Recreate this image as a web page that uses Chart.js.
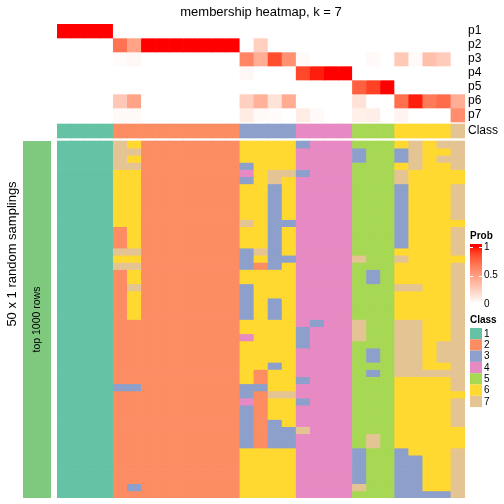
<!DOCTYPE html>
<html>
<head>
<meta charset="utf-8">
<script src="https://cdn.jsdelivr.net/npm/chart.js@4.4.1/dist/chart.umd.min.js"></script>
<style>
  html, body { margin: 0; padding: 0; background: #fff; }
  #wrap { width: 504px; height: 504px; }
</style>
</head>
<body>
<div id="wrap"><canvas id="heatmap" width="504" height="504"></canvas></div>
<script>
// consensus class of each of the 29 samples (columns)
const classIds = [1,1,1,1, 2,2,2,2,2,2,2,2,2, 3,3,3,3, 4,4,4,4, 5,5,5, 6,6,6,6, 7];

// membership probability per class (top annotation)
const probNames = ['p1', 'p2', 'p3', 'p4', 'p5', 'p6', 'p7'];
const p1 = [1,1,1,1, 0,0,0,0,0,0,0,0,0, 0,0,0,0, 0,0,0,0, 0,0,0, 0,0,0,0, 0];
const p2 = [0,0,0,0, 0.7,0.48,1,1,1,1,1,1,1, 0,0.25,0,0, 0,0,0,0, 0,0,0, 0,0,0,0, 0];
const p3 = [0,0,0,0, 0.02,0.04,0,0,0,0,0,0,0, 0.62,0.42,0.85,0.57, 0.03,0,0,0, 0,0.03,0, 0.28,0.03,0.33,0.27, 0];
const p4 = [0,0,0,0, 0,0,0,0,0,0,0,0,0, 0.04,0,0,0, 0.87,0.97,1,1, 0,0,0, 0,0,0,0, 0];
const p5 = [0,0,0,0, 0,0,0,0,0,0,0,0,0, 0,0,0,0, 0,0,0,0, 0.78,0.89,1, 0,0,0,0, 0];
const p6 = [0,0,0,0, 0.29,0.47,0,0,0,0,0,0,0, 0.25,0.4,0.15,0.43, 0,0,0,0, 0.15,0,0, 0.72,0.97,0.67,0.73, 0.42];
const p7 = [0,0,0,0, 0.03,0.03,0,0,0,0,0,0,0, 0.1,0.03,0.02,0, 0.1,0.03,0,0, 0.08,0.09,0, 0.06,0,0,0, 0.58];

// class assigned in each of the 50 random samplings (rows), grouped by consensus class
const samplings = [
  '1111 762222222 6666 3444 555 6767 7',
  '1111 772222222 6666 4444 355 3766 7',
  '1111 762222222 6666 4444 355 3767 7',
  '1111 772222222 3666 4444 555 6766 7',
  '1111 662222222 4677 3444 555 7666 6',
  '1111 662222222 3676 4444 555 7666 6',
  '1111 662222222 6636 4444 555 3666 7',
  '1111 662222222 6636 4444 555 3666 7',
  '1111 662222222 6636 4444 555 3666 7',
  '1111 662222222 6636 4444 555 3666 7',
  '1111 662222222 6636 4444 555 3666 7',
  '1111 662222222 7633 4444 555 3666 6',
  '1111 262222222 6636 4444 555 3666 7',
  '1111 262222222 6636 4444 555 3666 7',
  '1111 262222222 6636 4444 555 3666 7',
  '1111 772222222 3736 4444 555 6666 7',
  '1111 662222222 3633 4444 755 7666 6',
  '1111 772222222 3236 4444 555 6666 7',
  '1111 262222222 6666 4444 535 6666 7',
  '1111 262222222 6666 4444 535 6666 7',
  '1111 272222222 3666 4444 555 7766 7',
  '1111 262222222 3666 4444 555 6666 7',
  '1111 262222222 3636 4444 555 6666 7',
  '1111 262222222 3636 4444 555 6666 7',
  '1111 262222222 3636 4444 555 6666 7',
  '1111 222222222 6666 4344 755 7766 7',
  '1111 222222222 6666 3444 755 7766 7',
  '1111 222222222 4666 3444 755 7766 7',
  '1111 222222222 6666 3444 555 7767 7',
  '1111 222222222 6666 4444 535 7767 7',
  '1111 222222222 6666 4444 535 7767 7',
  '1111 222222222 6636 4444 555 7766 7',
  '1111 222222222 6266 4444 535 7777 7',
  '1111 222222222 6266 3444 555 6666 7',
  '1111 332222222 3366 4444 555 6666 7',
  '1111 222222222 3277 4444 555 6666 6',
  '1111 222222222 4266 3444 555 6666 7',
  '1111 222222222 3266 4444 555 6666 7',
  '1111 222222222 3266 4444 555 6666 7',
  '1111 222222222 3236 4444 555 6666 7',
  '1111 222222222 3233 7444 555 6666 6',
  '1111 222222222 3233 4444 575 6666 6',
  '1111 222222222 3233 4444 575 6666 6',
  '1111 222222222 6666 4444 355 3666 7',
  '1111 222222222 6666 4444 355 3366 7',
  '1111 222222222 6666 4444 355 3366 7',
  '1111 222222222 6666 4444 355 3366 7',
  '1111 222222222 6666 4444 355 3366 7',
  '1111 232222222 6666 4444 755 3366 7',
  '1111 222222222 6666 4444 555 3333 7'
];

const classColors = { 1: '#66C2A5', 2: '#FC8D62', 3: '#8DA0CB', 4: '#E78AC3', 5: '#A6D854', 6: '#FFD92F', 7: '#E5C494' };

// layout (y in pixels from the top of the canvas)
const annoTop = 24, annoRowH = 14;
const classTop = 124, classH = 14;
const bodyTop = 141, bodyBottom = 498;

// white -> red colour ramp, interpolated in LAB like colorRamp2
function toLinear(c) { c /= 255; return c <= 0.04045 ? c / 12.92 : Math.pow((c + 0.055) / 1.055, 2.4); }
function fromLinear(c) { const v = c <= 0.0031308 ? 12.92 * c : 1.055 * Math.pow(c, 1 / 2.4) - 0.055; return Math.round(Math.min(1, Math.max(0, v)) * 255); }
function rgbToLab(r, g, b) {
  const R = toLinear(r), G = toLinear(g), B = toLinear(b);
  const X = (0.4124 * R + 0.3576 * G + 0.1805 * B) / 0.95047;
  const Y = 0.2126 * R + 0.7152 * G + 0.0722 * B;
  const Z = (0.0193 * R + 0.1192 * G + 0.9505 * B) / 1.08883;
  const f = t => t > 0.008856 ? Math.cbrt(t) : 7.787 * t + 16 / 116;
  const fx = f(X), fy = f(Y), fz = f(Z);
  return [116 * fy - 16, 500 * (fx - fy), 200 * (fy - fz)];
}
function labToRgb(L, a, b) {
  const fy = (L + 16) / 116, fx = fy + a / 500, fz = fy - b / 200;
  const inv = t => t * t * t > 0.008856 ? t * t * t : (t - 16 / 116) / 7.787;
  const X = inv(fx) * 0.95047, Y = inv(fy), Z = inv(fz) * 1.08883;
  const R = 3.2406 * X - 1.5372 * Y - 0.4986 * Z;
  const G = -0.9689 * X + 1.8758 * Y + 0.0415 * Z;
  const B = 0.0557 * X - 0.2040 * Y + 1.0570 * Z;
  return 'rgb(' + fromLinear(R) + ',' + fromLinear(G) + ',' + fromLinear(B) + ')';
}
const labLow = rgbToLab(255, 255, 255), labHigh = rgbToLab(255, 0, 0);
function probColor(v) {
  return labToRgb(labLow[0] + (labHigh[0] - labLow[0]) * v,
                  labLow[1] + (labHigh[1] - labLow[1]) * v,
                  labLow[2] + (labHigh[2] - labLow[2]) * v);
}

const datasets = [];
[p1, p2, p3, p4, p5, p6, p7].forEach((vals, i) => {
  datasets.push({
    label: probNames[i],
    data: vals.map(() => [annoTop + i * annoRowH, annoTop + (i + 1) * annoRowH]),
    backgroundColor: vals.map(probColor)
  });
});
datasets.push({
  label: 'Class',
  data: classIds.map(() => [classTop, classTop + classH]),
  backgroundColor: classIds.map(c => classColors[c])
});
const rowH = (bodyBottom - bodyTop) / samplings.length;
samplings.forEach((row, r) => {
  const cells = row.replace(/ /g, '').split('').map(Number);
  datasets.push({
    label: 'sampling ' + (r + 1),
    data: cells.map(() => [bodyTop + r * rowH, bodyTop + (r + 1) * rowH]),
    backgroundColor: cells.map(c => classColors[c])
  });
});
datasets.forEach(d => {
  d.grouped = false;
  d.barPercentage = 1;
  d.categoryPercentage = 1;
  d.borderWidth = 0;
  d.inflateAmount = 0.33;
});

const FONT = '"Liberation Sans", Arial, Helvetica, sans-serif';

// texts, side bar and legends
const annotate = {
  id: 'annotate',
  afterDraw(chart) {
    const ctx = chart.ctx;
    const { left, right } = chart.chartArea;
    const yScale = chart.scales.y;
    ctx.save();
    ctx.fillStyle = '#000';
    ctx.textBaseline = 'middle';

    ctx.font = '13px ' + FONT;
    ctx.textAlign = 'center';
    ctx.fillText('membership heatmap, k = 7', (left + right) / 2, 12);

    ctx.font = '12px ' + FONT;
    ctx.textAlign = 'left';
    probNames.forEach((n, i) => {
      ctx.fillText(n, right + 3, yScale.getPixelForValue(annoTop + (i + 0.5) * annoRowH));
    });
    ctx.fillText('Class', right + 3, yScale.getPixelForValue(classTop + classH / 2));

    // left annotation bar
    const yb0 = yScale.getPixelForValue(bodyTop), yb1 = yScale.getPixelForValue(bodyBottom);
    ctx.fillStyle = '#7FC97F';
    ctx.fillRect(23, yb0, 28, yb1 - yb0);

    ctx.fillStyle = '#000';
    ctx.save();
    ctx.translate(37, (yb0 + yb1) / 2);
    ctx.rotate(-Math.PI / 2);
    ctx.font = '10.5px ' + FONT;
    ctx.textAlign = 'center';
    ctx.fillText('top 1000 rows', 0, 0);
    ctx.restore();

    ctx.save();
    ctx.translate(12, 254);
    ctx.rotate(-Math.PI / 2);
    ctx.font = '13px ' + FONT;
    ctx.textAlign = 'center';
    ctx.fillText('50 x 1 random samplings', 0, 0);
    ctx.restore();

    // Prob legend
    ctx.font = 'bold 10px ' + FONT;
    ctx.textAlign = 'left';
    ctx.fillText('Prob', 470, 236);
    const gTop = 244, gOne = 247, gZero = 304, gBottom = 302;
    for (let yy = gTop; yy < gBottom; yy++) {
      const v = Math.max(0, Math.min(1, (gZero - (yy + 0.5)) / (gZero - gOne)));
      ctx.fillStyle = probColor(v);
      ctx.fillRect(470, yy, 12, 1);
    }
    ctx.strokeStyle = '#fff';
    ctx.lineWidth = 1;
    [1, 0.5].forEach(v => {
      const ty = Math.round(gZero - v * (gZero - gOne)) + 0.5;
      ctx.beginPath();
      ctx.moveTo(470, ty); ctx.lineTo(473, ty);
      ctx.moveTo(479, ty); ctx.lineTo(482, ty);
      ctx.stroke();
    });
    ctx.fillStyle = '#000';
    ctx.font = '10px ' + FONT;
    [1, 0.5, 0].forEach(v => {
      ctx.fillText(String(v), 484, gZero - v * (gZero - gOne));
    });

    // Class legend
    ctx.font = 'bold 10px ' + FONT;
    ctx.fillText('Class', 470, 320);
    ctx.font = '10px ' + FONT;
    const classKeys = Object.keys(classColors);
    classKeys.forEach((k, i) => {
      const sy = 328 + i * 11.3;
      ctx.fillStyle = classColors[k];
      ctx.fillRect(470, sy, 12, 11.3);
      ctx.fillStyle = '#000';
      ctx.fillText(k, 484, sy + 6);
    });
    ctx.restore();
  }
};

new Chart(document.getElementById('heatmap').getContext('2d'), {
  type: 'bar',
  data: {
    labels: classIds.map((c, i) => 'sample ' + (i + 1)),
    datasets: datasets
  },
  options: {
    responsive: false,
    animation: false,
    layout: { padding: { left: 57, right: 39, top: 24, bottom: 6 } },
    scales: {
      x: { display: false },
      y: { display: false, reverse: true, min: 24, max: 498 }
    },
    plugins: {
      legend: { display: false },
      tooltip: { enabled: false }
    }
  },
  plugins: [annotate]
});
</script>
</body>
</html>
